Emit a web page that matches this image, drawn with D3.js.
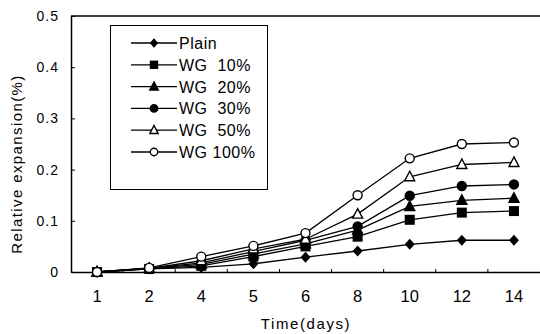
<!DOCTYPE html>
<html>
<head>
<meta charset="utf-8">
<script src="https://cdn.jsdelivr.net/npm/d3@7"></script>
<style>
  body { margin: 0; background: #fff; }
  svg text { font-family: "Liberation Sans", Arial, sans-serif; fill: #000; }
</style>
</head>
<body>
<script>
// categories (days) and series values
const days = ['1', '2', '4', '5', '6', '8', '10', '12', '14'];
const seriesNames = ['Plain', 'WG  10%', 'WG  20%', 'WG  30%', 'WG  50%', 'WG 100%'];
const plain  = [0, 0.006, 0.009, 0.016, 0.029, 0.041, 0.054, 0.062, 0.062];
const wg10   = [0, 0.006, 0.012, 0.030, 0.050, 0.069, 0.102, 0.116, 0.119];
const wg20   = [0, 0.007, 0.015, 0.035, 0.055, 0.082, 0.128, 0.140, 0.144];
const wg30   = [0, 0.007, 0.018, 0.040, 0.062, 0.089, 0.149, 0.168, 0.171];
const wg50   = [0, 0.007, 0.022, 0.045, 0.064, 0.113, 0.186, 0.210, 0.214];
const wg100  = [0, 0.008, 0.030, 0.051, 0.076, 0.150, 0.222, 0.250, 0.253];
const yTicks = [0, 0.1, 0.2, 0.3, 0.4, 0.5];
const markers = ['diamond', 'square', 'triangle', 'circle', 'triangleOpen', 'circleOpen'];

const width = 540, height = 334;
const margin = {top: 16, left: 71, right: 0, bottom: 62};

const svg = d3.select('body').append('svg')
  .attr('width', width)
  .attr('height', height);

const x = d3.scaleBand().domain(days).range([margin.left, width - margin.right]);
const y = d3.scaleLinear().domain([0, 0.5]).range([height - margin.bottom, margin.top]);

// axes
const yAxis = d3.axisLeft(y).tickValues(yTicks)
  .tickFormat(d => d === 0 ? '0' : d3.format('.1f')(d))
  .tickSizeInner(-4).tickSizeOuter(0).tickPadding(12);
const yG = svg.append('g').attr('transform', `translate(${margin.left},0)`).call(yAxis);
yG.select('.domain').attr('stroke-width', 1.5);
yG.selectAll('text').attr('font-size', '14px').style('letter-spacing', '1px');

const xAxis = d3.axisBottom(x).tickSize(0).tickPadding(18);
const xG = svg.append('g').attr('transform', `translate(0,${y(0)})`).call(xAxis);
xG.select('.domain').attr('stroke-width', 1.5);
xG.selectAll('text').attr('font-size', '16.5px');
// ticks between categories, pointing up
xG.selectAll('.bound')
  .data(days.slice(1))
  .enter().append('line')
  .attr('x1', d => x(d)).attr('x2', d => x(d))
  .attr('y1', 0).attr('y2', -3)
  .attr('stroke', '#000');

// top frame line
svg.append('line')
  .attr('x1', margin.left).attr('x2', width)
  .attr('y1', y(0.5)).attr('y2', y(0.5))
  .attr('stroke', '#000').attr('stroke-width', 1.5);

// axis titles
svg.append('text')
  .attr('transform', `translate(22,164) rotate(-90)`)
  .attr('text-anchor', 'middle')
  .attr('font-size', '15px')
  .style('letter-spacing', '1.4px')
  .text('Relative expansion(%)');

svg.append('text')
  .attr('x', 306)
  .attr('y', 329)
  .attr('text-anchor', 'middle')
  .attr('font-size', '15px')
  .style('letter-spacing', '1.6px')
  .text('Time(days)');

// marker drawing
function drawMarker(g, type, cx, cy, s) {
  if (type === 'diamond') {
    g.append('path').attr('d', `M${cx},${cy - s - 0.5}L${cx + s},${cy}L${cx},${cy + s + 0.5}L${cx - s},${cy}Z`)
      .attr('fill', '#000');
  } else if (type === 'square') {
    g.append('rect').attr('x', cx - s).attr('y', cy - s).attr('width', 2 * s).attr('height', 2 * s)
      .attr('fill', '#000');
  } else if (type === 'triangle' || type === 'triangleOpen') {
    g.append('path').attr('d', `M${cx},${cy - s - 0.5}L${cx + s},${cy + s * 0.8}L${cx - s},${cy + s * 0.8}Z`)
      .attr('fill', type === 'triangle' ? '#000' : '#fff')
      .attr('stroke', '#000').attr('stroke-width', 1.4);
  } else {
    g.append('circle').attr('cx', cx).attr('cy', cy).attr('r', s - 0.5)
      .attr('fill', type === 'circle' ? '#000' : '#fff')
      .attr('stroke', '#000').attr('stroke-width', 1.4);
  }
}

const allSeries = [plain, wg10, wg20, wg30, wg50, wg100];
const line = d3.line()
  .x((d, i) => x(days[i]) + x.bandwidth() / 2)
  .y(d => y(d));

allSeries.forEach((vals, si) => {
  const g = svg.append('g');
  g.append('path').datum(vals)
    .attr('d', line)
    .attr('fill', 'none')
    .attr('stroke', '#000')
    .attr('stroke-width', 1.3);
  vals.forEach((v, i) => {
    drawMarker(g, markers[si], x(days[i]) + x.bandwidth() / 2, y(v), 5);
  });
});

// legend
const legend = svg.append('g');
legend.append('rect')
  .attr('x', 110.5).attr('y', 25.5)
  .attr('width', 157).attr('height', 164)
  .attr('fill', '#fff')
  .attr('stroke', '#000').attr('stroke-width', 1);

seriesNames.forEach((name, i) => {
  const ly = 43 + i * 21.8;
  legend.append('line')
    .attr('x1', 131).attr('x2', 177)
    .attr('y1', ly).attr('y2', ly)
    .attr('stroke', '#000').attr('stroke-width', 1.3);
  drawMarker(legend, markers[i], 154, ly, 4.2);
  legend.append('text')
    .attr('x', 179).attr('y', ly + 6)
    .attr('font-size', '16px')
    .style('letter-spacing', '0.5px')
    .style('white-space', 'pre')
    .text(name);
});
</script>
</body>
</html>
